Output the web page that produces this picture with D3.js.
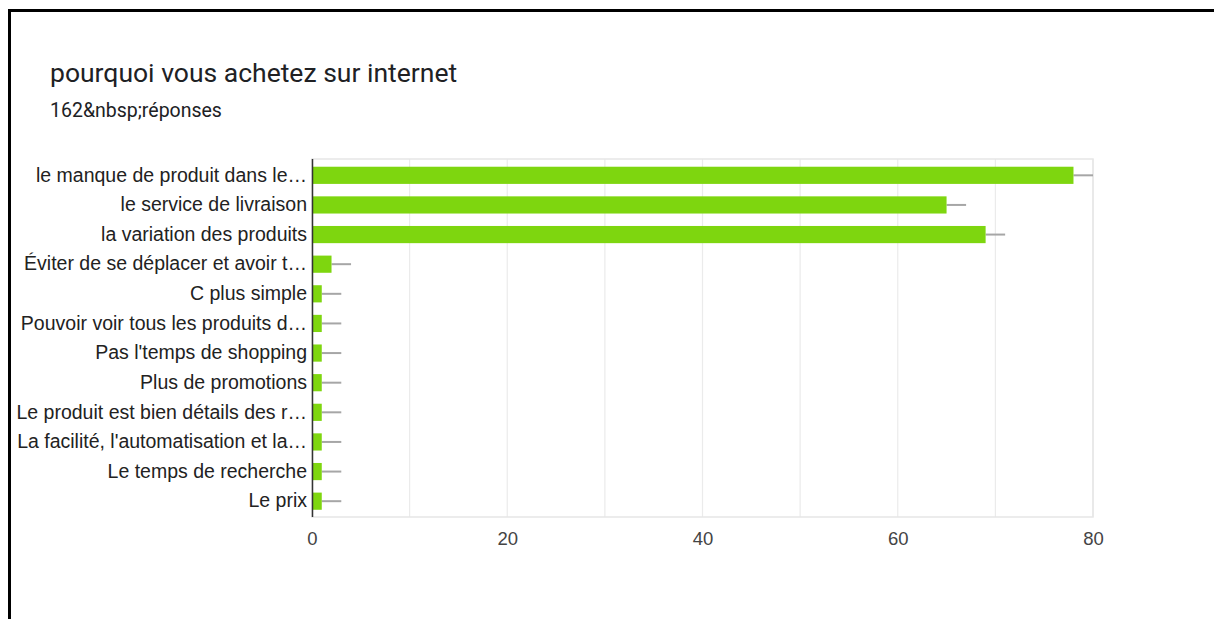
<!DOCTYPE html>
<html>
<head>
<meta charset="utf-8">
<script src="https://cdn.jsdelivr.net/npm/d3@7/dist/d3.min.js"></script>
<style>
  html, body { margin: 0; padding: 0; background: #fff; }
  svg { display: block; }
</style>
</head>
<body>
<svg id="chart" width="1214" height="619"></svg>
<script>
// Survey answers: "pourquoi vous achetez sur internet"
const categories = [
  "le manque de produit dans le…",
  "le service de livraison",
  "la variation des produits",
  "Éviter de se déplacer et avoir t…",
  "C plus simple",
  "Pouvoir voir tous les produits d…",
  "Pas l'temps de shopping",
  "Plus de promotions",
  "Le produit est bien détails des r…",
  "La facilité, l'automatisation et la…",
  "Le temps de recherche",
  "Le prix"
];
const counts = [78, 65, 69, 2, 1, 1, 1, 1, 1, 1, 1, 1];
// upper end of the grey interval line drawn after each bar
const intervalEnds = [80, 67, 71, 4, 3, 3, 3, 3, 3, 3, 3, 3];
const xTicks = [0, 20, 40, 60, 80];
const xGrid = [10, 20, 30, 40, 50, 60, 70, 80];

const title = "pourquoi vous achetez sur internet";
const subtitle = "162&nbsp;réponses";

const svg = d3.select("#chart");

// outer frame (top and left edges visible)
svg.append("path")
  .attr("d", "M9.5,1000 V10.5 H1300")
  .attr("fill", "none")
  .attr("stroke", "#000")
  .attr("stroke-width", 3);

svg.append("text")
  .attr("x", 50).attr("y", 82)
  .attr("font-family", "Roboto, 'Noto Sans', sans-serif")
  .attr("font-size", 26.5)
  .attr("fill", "#202124")
  .text(title);

svg.append("text")
  .attr("x", 50).attr("y", 117)
  .attr("font-family", "Roboto, 'Noto Sans', sans-serif")
  .attr("font-size", 19.5)
  .attr("fill", "#202124")
  .text(subtitle);

const plot = { left: 312, right: 1093, top: 159, bottom: 517 };

const x = d3.scaleLinear().domain([0, 80]).range([plot.left, plot.right]);
const y = d3.scaleBand()
  .domain(categories)
  .range([plot.top + 1.5, plot.bottom - 1])
  .paddingInner(0.42)
  .paddingOuter(0.21);

// gridlines
svg.append("g")
  .selectAll("line")
  .data(xGrid)
  .join("line")
  .attr("x1", d => x(d)).attr("x2", d => x(d))
  .attr("y1", plot.top).attr("y2", plot.bottom)
  .attr("stroke", "#ebebeb")
  .attr("stroke-width", 1.2);

// plot box
svg.append("rect")
  .attr("x", plot.left).attr("y", plot.top)
  .attr("width", plot.right - plot.left)
  .attr("height", plot.bottom - plot.top)
  .attr("fill", "none")
  .attr("stroke", "#e6e6e6")
  .attr("stroke-width", 1.5);

const rows = categories.map((c, i) => ({ c, v: counts[i], e: intervalEnds[i] }));

// interval lines
svg.append("g")
  .selectAll("line")
  .data(rows)
  .join("line")
  .attr("x1", d => x(d.v)).attr("x2", d => x(d.e))
  .attr("y1", d => y(d.c) + y.bandwidth() / 2)
  .attr("y2", d => y(d.c) + y.bandwidth() / 2)
  .attr("stroke", "#a6a6a6")
  .attr("stroke-width", 2);

// bars
svg.append("g")
  .selectAll("rect")
  .data(rows)
  .join("rect")
  .attr("x", x(0))
  .attr("y", d => y(d.c))
  .attr("width", d => x(d.v) - x(0))
  .attr("height", y.bandwidth())
  .attr("fill", "#7ed60f");

// category axis
const yAxis = svg.append("g")
  .attr("transform", `translate(${plot.left},0)`)
  .call(d3.axisLeft(y).tickSize(0).tickPadding(5));
yAxis.select(".domain")
  .attr("d", `M0.5,${plot.top} V${plot.bottom}`)
  .attr("stroke", "#333")
  .attr("stroke-width", 1.5);
yAxis.selectAll("text")
  .attr("font-family", "'Liberation Sans', Arial, sans-serif")
  .attr("font-size", 19.5)
  .attr("fill", "#222");

// value axis
const xAxis = svg.append("g")
  .attr("transform", `translate(0,${plot.bottom})`)
  .call(d3.axisBottom(x).tickValues(xTicks).tickSize(0).tickPadding(15).tickFormat(d3.format("d")));
xAxis.select(".domain").remove();
xAxis.selectAll("text")
  .attr("font-family", "'Liberation Sans', Arial, sans-serif")
  .attr("font-size", 18.5)
  .attr("fill", "#444");
</script>
</body>
</html>
